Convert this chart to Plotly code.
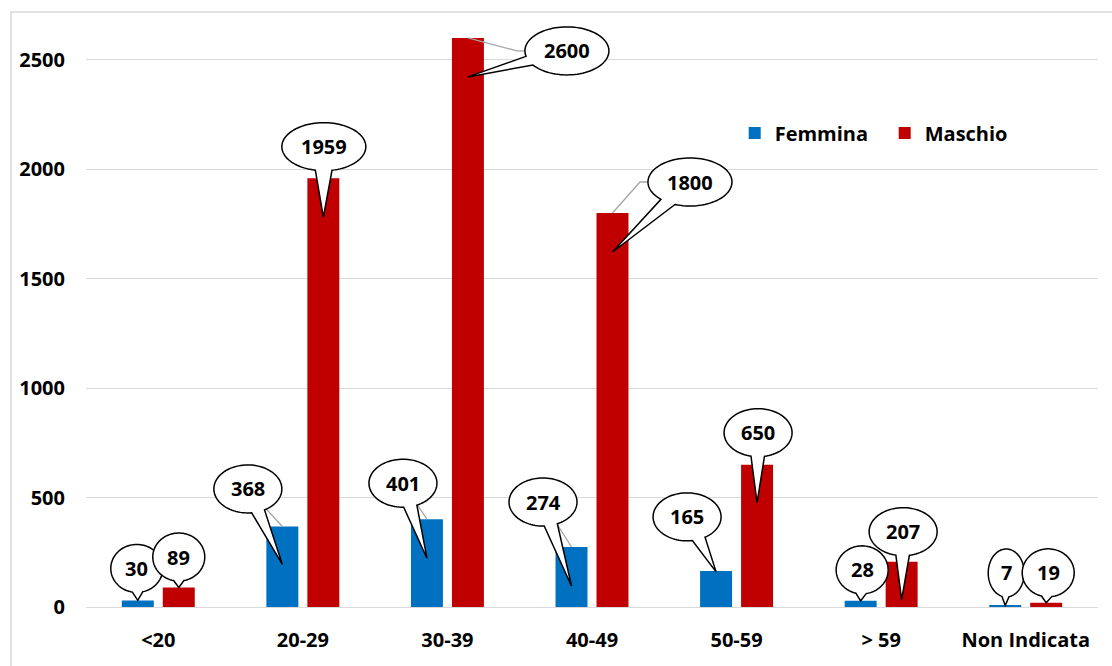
import numpy as np
import plotly.graph_objects as go

# Age bands and counts per gender
categories = ["<20", "20-29", "30-39", "40-49", "50-59", "> 59", "Non Indicata"]
femmina = [30, 368, 401, 274, 165, 28, 7]
maschio = [89, 1959, 2600, 1800, 650, 207, 19]
y_ticks = [0, 500, 1000, 1500, 2000, 2500]

BLUE = "#0070C0"
RED = "#C00000"
GRID = "#D9D9D9"
FONT = dict(family="Open Sans, Arial, sans-serif", size=20, color="#000000", weight="bold")

BARGAP = 0.433
BARGROUPGAP = 0.22
# horizontal offset of each bar centre from its group centre (axis units)
HALF_SLOT = (1 - BARGAP) / 4

# Callout placement for each value label: ellipse centre offset from the bar top
# (dx to the right, dy upwards, pixels) and how far below the bar top the tail ends.
femmina_callouts = [(-1, 32, 0), (-34.5, 37.5, 38), (-24, 36, 39), (-28.5, 45, 39),
                    (-29, 54, 1), (1.5, 31, 0), (1, 32.5, 0)]
maschio_callouts = [(0, 30.5, 0), (0.5, 31.5, 39), (99, -13, 39), (77.5, 31, 39),
                    (1, 32, 38), (1.5, 30, 38), (2, 30, 0)]

xs = np.arange(len(categories))

fig = go.Figure()
fig.add_trace(go.Bar(x=xs, y=femmina, name="Femmina", marker=dict(color=BLUE, line=dict(width=0))))
fig.add_trace(go.Bar(x=xs, y=maschio, name="Maschio", marker=dict(color=RED, line=dict(width=0))))


def balloon_path(cx, cy, a, b, tx, ty, spread=0.2, n=90):
    """Ellipse outline with a wedge tail reaching (tx, ty); y axis points up."""
    t0 = np.arctan2((ty - cy) / b, (tx - cx) / a)
    ts = np.linspace(t0 + spread, t0 + 2 * np.pi - spread, n)
    pts = [(cx + a * np.cos(t), cy + b * np.sin(t)) for t in ts]
    d = "M" + " L".join(f"{x:.2f},{y:.2f}" for x, y in pts)
    d += f" L{tx:.2f},{ty:.2f} Z"
    return d


annotations = []
leaders = []
balloons = []

for values, callouts, shift in ((femmina, femmina_callouts, -HALF_SLOT),
                                (maschio, maschio_callouts, HALF_SLOT)):
    for i, (v, (dx, dy, depth)) in enumerate(zip(values, callouts)):
        xa = xs[i] + shift
        label = f"{v}"
        a = (20 + 16 * len(label)) / 2
        b = 24
        # grey leader line from the bar top to the label
        if dx > a:
            lp = f"M0,0 L{dx - a - 8:.2f},{dy:.2f} L{dx:.2f},{dy:.2f}"
        else:
            lp = f"M0,0 L{dx:.2f},{dy:.2f}"
        leaders.append(dict(type="path", xref="x", yref="y", xsizemode="pixel", ysizemode="pixel",
                            xanchor=xa, yanchor=v, path=lp,
                            line=dict(color="#A6A6A6", width=1.3)))
        balloons.append(dict(type="path", xref="x", yref="y", xsizemode="pixel", ysizemode="pixel",
                             xanchor=xa, yanchor=v,
                             path=balloon_path(dx, dy, a, b, 0, -depth),
                             fillcolor="white", line=dict(color="black", width=1.5)))
        annotations.append(dict(x=xa, y=v, xref="x", yref="y", text=label, showarrow=False,
                                xshift=dx, yshift=dy, font=FONT,
                                xanchor="center", yanchor="middle"))

# light outer frame of the chart area
frame = dict(type="rect", xref="paper", yref="paper",
             x0=(11 - 86) / 1012, x1=(1116 - 86) / 1012,
             y0=(607 - 670) / 591, y1=(607 - 12) / 591,
             line=dict(color=GRID, width=1.5), fillcolor="rgba(0,0,0,0)", layer="below")

fig.update_layout(
    width=1112, height=666,
    margin=dict(l=86, r=14, t=16, b=59),
    paper_bgcolor="white", plot_bgcolor="white",
    barmode="group", bargap=BARGAP, bargroupgap=BARGROUPGAP,
    font=FONT,
    showlegend=True,
    legend=dict(orientation="h", x=0.641, y=0.802, xanchor="left", yanchor="middle",
                entrywidth=105, entrywidthmode="pixels",
                font=FONT, bgcolor="rgba(0,0,0,0)", itemclick=False),
    xaxis=dict(tickmode="array", tickvals=xs, ticktext=categories, range=[-0.5, 6.5],
               showgrid=False, zeroline=False, showline=False, ticks="",
               ticklabelstandoff=19, tickfont=FONT, fixedrange=True),
    yaxis=dict(tickmode="array", tickvals=y_ticks, range=[0, 2700],
               showgrid=True, gridcolor=GRID, gridwidth=1.3,
               zeroline=True, zerolinecolor=GRID, zerolinewidth=1.3,
               showline=False, ticks="", ticklabelstandoff=20, tickfont=FONT, fixedrange=True),
    shapes=[frame] + leaders + balloons,
    annotations=annotations,
)

fig.write_html("out.html")
